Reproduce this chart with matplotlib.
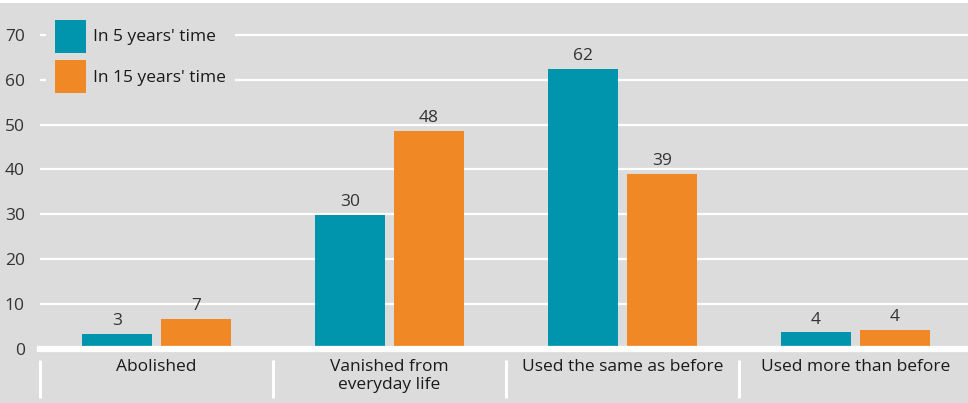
import numpy as np
import matplotlib
matplotlib.use('Agg')
import matplotlib.pyplot as plt
import matplotlib.transforms as mtransforms

plt.rcParams['font.family'] = ['Open Sans', 'DejaVu Sans']

# Data
categories = ['Abolished', 'Vanished from\neveryday life', 'Used the same as before', 'Used more than before']
series_names = ["In 5 years' time", "In 15 years' time"]
values_5y = [3.3, 29.8, 62.4, 3.7]
values_15y = [6.7, 48.5, 39.1, 4.3]
y_ticks = [0, 10, 20, 30, 40, 50, 60, 70]

teal = '#0095ac'
orange = '#f08826'
bg = '#dcdcdc'
txt = '#333333'
fs = 12.5

fig = plt.figure(figsize=(9.68, 4.03), dpi=100, facecolor=bg)
# thin white strip along the top edge
fig.patches.append(plt.Rectangle((0, 400 / 403), 1, 3 / 403, transform=fig.transFigure,
                                 facecolor='white', edgecolor='none'))
ax = fig.add_axes([40 / 968, 54 / 403, 928 / 968, 346 / 403])
ax.set_facecolor(bg)

x = np.arange(len(categories))
w = 0.30
off = 0.17
b1 = ax.bar(x - off, values_5y, w, color=teal, label=series_names[0], zorder=3)
b2 = ax.bar(x + off, values_15y, w, color=orange, label=series_names[1], zorder=3)
ax.bar_label(b1, fmt='%.0f', padding=3.5, fontsize=fs, color=txt, zorder=6)
ax.bar_label(b2, fmt='%.0f', padding=3.5, fontsize=fs, color=txt, zorder=6)

ax.set_xlim(-0.5, 3.483)
ax.set_ylim(0, 77.1)
ax.set_yticks(y_ticks)
ax.set_yticklabels([str(t) for t in y_ticks], fontsize=fs, color=txt)
ax.tick_params(axis='y', length=0, pad=11)
ax.set_xticks([])
for s in ax.spines.values():
    s.set_visible(False)

# gridlines
for t in y_ticks[1:]:
    ax.axhline(t, color='white', lw=1.6, zorder=1)
ax.axhline(0, color='white', lw=4.5, zorder=4, clip_on=False)

# category labels and separators
trans = mtransforms.blended_transform_factory(ax.transData, ax.transAxes)
for i, c in enumerate(categories):
    ax.text(i, -0.030, c, transform=trans, ha='center', va='top',
            fontsize=fs, color='#1a1a1a', linespacing=1.15)
for b in np.arange(-0.5, len(categories) - 0.5, 1.0):
    ax.plot([b, b], [-0.032, -0.142], transform=trans, color='white',
            lw=2.2, clip_on=False, solid_capstyle='butt')

leg = ax.legend(loc='upper left', bbox_to_anchor=(6 / 928, 1 - 8 / 346),
                frameon=True, facecolor=bg, edgecolor='none', framealpha=1,
                fontsize=fs, handlelength=1.78, handleheight=2.55,
                labelspacing=0.42, handletextpad=0.45, borderpad=0.5,
                borderaxespad=0)
for t in leg.get_texts():
    t.set_color('#1a1a1a')
leg.set_zorder(5)

fig.savefig('out.png', dpi=100, facecolor=bg)
